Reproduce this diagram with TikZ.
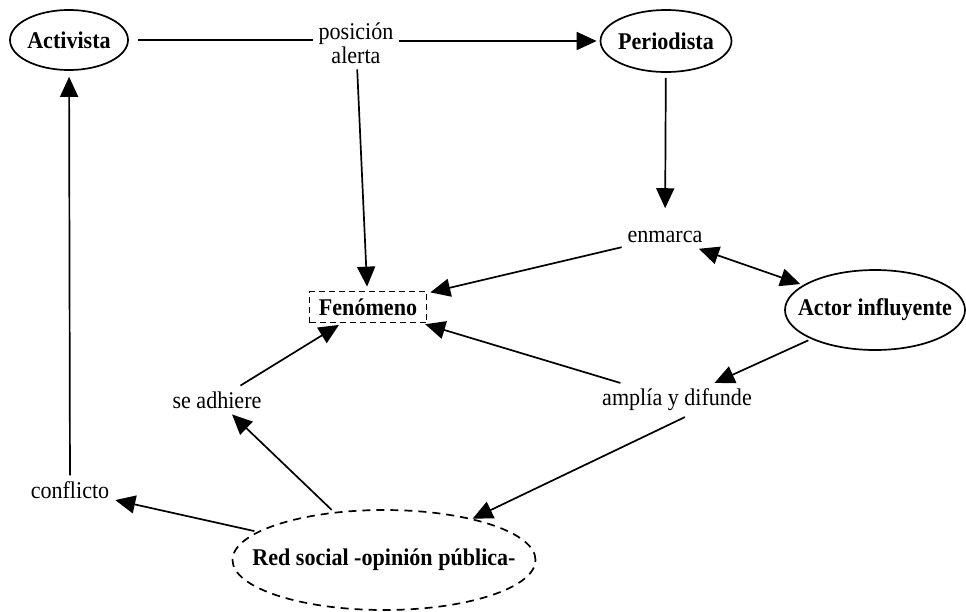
\documentclass[tikz,border=0pt]{standalone}
\usepackage{fontspec}
\setmainfont{Liberation Serif}[FakeStretch=0.92]
\usetikzlibrary{shapes.geometric,arrows.meta}
\begin{document}
\begin{tikzpicture}[x=1pt,y=-1pt,
  >={Triangle[length=20pt,width=18pt]},
  font=\fontsize{24}{24}\selectfont,
  oval/.style={ellipse,draw,line width=1.7pt,font=\fontsize{24}{24}\selectfont\bfseries,inner sep=0pt},
  lbl/.style={inner sep=2pt,outer sep=4pt,align=center},
  ln/.style={line width=1.7pt},
  arr/.style={line width=1.7pt,->},
  dbl/.style={line width=1.7pt,<->},
  dsh/.style={dash pattern=on 8pt off 6pt},
  bdsh/.style={dash pattern=on 6pt off 4pt}]
\useasboundingbox (0,0) rectangle (966,611);
\node[oval,minimum width=118pt,minimum height=60pt] (act) at (69,40) {Activista};
\node[oval,inner xsep=-4pt,minimum width=131pt,minimum height=62pt] (per) at (666,41) {Periodista};
\node[lbl] (pos) at (356,43) {posición\\alerta};
\node[lbl] (enm) at (665,237) {enmarca};
\node[draw,bdsh,line width=1.7pt,font=\fontsize{24}{24}\selectfont\bfseries,minimum width=117pt,minimum height=31pt,inner sep=0pt] (fen) at (368,307) {Fenómeno};
\node[oval,inner xsep=-17pt,minimum width=180pt,minimum height=80pt] (actor) at (875,310) {Actor influyente};
\node[lbl] (amp) at (677,400) {amplía y difunde};
\node[lbl] (adh) at (217,400) {se adhiere};
\node[oval,dsh,inner xsep=-29pt,minimum width=303pt,minimum height=100pt] (red) at (384,560) {Red social -opinión pública-};
\node[lbl] (con) at (70,490) {conflicto};

\draw[ln,shorten <=9pt] (act.east) -- (act.east -| pos.west);
\draw[arr,shorten >=3pt] (pos.east |- per.west) -- (per.west);
\draw[arr,shorten >=4pt] (pos) -- (fen);
\draw[arr,shorten <=5pt,shorten >=17pt] (per) -- (enm);
\draw[arr,shorten >=3pt] (enm) -- (fen);
\draw[dbl,shorten >=3pt] (enm) -- (actor);
\draw[arr,shorten <=3pt] (actor) -- (amp);
\draw[arr,shorten >=3pt] (amp) -- (fen);
\draw[arr] ([xshift=8pt]amp.south) -- (red.25);
\draw[arr,shorten >=3pt] (adh) -- (fen);
\draw[arr,shorten <=3pt] (red) -- (adh);
\draw[arr,shorten <=3pt] (red) -- (con);
\draw[arr,shorten >=6pt] (con) -- (act);
\end{tikzpicture}
\end{document}
